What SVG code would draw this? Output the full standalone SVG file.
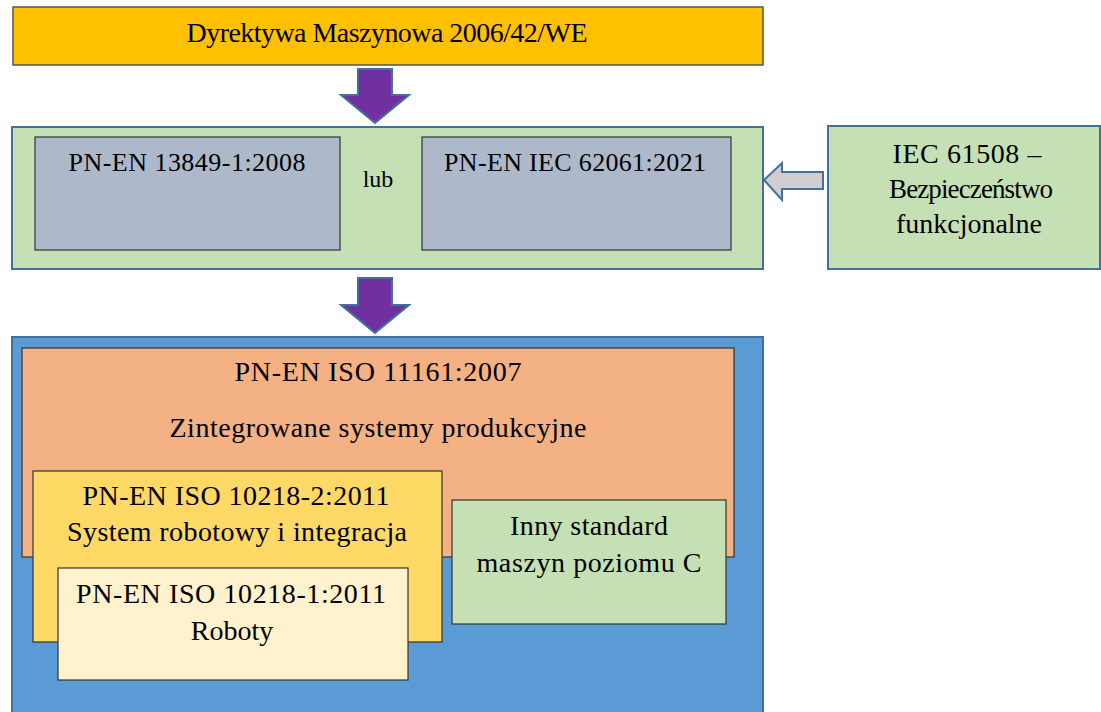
<svg xmlns="http://www.w3.org/2000/svg" width="1101" height="712" viewBox="0 0 1101 712">
<style>
.t{font-family:"Liberation Serif","Times New Roman",Tinos,"DejaVu Serif",serif;font-size:28px;fill:#000;text-anchor:middle}
.dk{stroke:#333;stroke-width:1.2}
.bl{stroke:#41719C;stroke-width:2}
.pur{fill:#7030A0;stroke:#41719C;stroke-width:2}
</style>
<rect width="1101" height="712" fill="#fff"/>
<g id="dyrektywa">
<rect x="13" y="7" width="750" height="58" fill="#FFC000" stroke="#555" stroke-width="1.5"/>
<text class="t" x="387" y="42" textLength="401" lengthAdjust="spacing">Dyrektywa Maszynowa 2006/42/WE</text>
</g>
<g id="normy-bezpieczenstwa">
<rect x="12" y="127" width="751" height="142" fill="#C5E0B4" class="bl"/>
</g>
<g id="pn-en-13849">
<rect x="35" y="137" width="305" height="113" fill="#ADB9CA" class="dk"/>
<text class="t" x="187" y="171" style="font-size:26px" textLength="237" lengthAdjust="spacing">PN-EN 13849-1:2008</text>
</g>
<g id="lub">
<text class="t" x="378" y="187" style="font-size:24px">lub</text>
</g>
<g id="pn-en-iec-62061">
<rect x="422" y="137" width="309" height="113" fill="#ADB9CA" class="dk"/>
<text class="t" x="575" y="171" style="font-size:26px" textLength="262" lengthAdjust="spacing">PN-EN IEC 62061:2021</text>
</g>
<g id="iec-61508">
<rect x="828" y="126" width="272" height="143" fill="#C5E0B4" class="bl"/>
<text class="t" x="967" y="163" textLength="149" lengthAdjust="spacing">IEC 61508 –</text>
<text class="t" x="971" y="198" style="font-size:27px" textLength="164" lengthAdjust="spacing">Bezpieczeństwo</text>
<text class="t" x="969" y="233" textLength="146" lengthAdjust="spacing">funkcjonalne</text>
</g>
<g id="maszyny-kontener">
<rect x="12" y="337" width="751" height="380" fill="#5B9BD5" class="bl"/>
</g>
<g id="iso-11161">
<rect x="22" y="348" width="712" height="209" fill="#F4B183" class="dk"/>
<text class="t" x="378" y="381" textLength="287" lengthAdjust="spacing">PN-EN ISO 11161:2007</text>
<text class="t" x="378" y="437" textLength="417" lengthAdjust="spacing">Zintegrowane systemy produkcyjne</text>
</g>
<g id="iso-10218-2">
<rect x="33" y="471" width="409" height="171" fill="#FFD966" class="dk"/>
<text class="t" x="236" y="505" textLength="307" lengthAdjust="spacing">PN-EN ISO 10218-2:2011</text>
<text class="t" x="237" y="541" textLength="340" lengthAdjust="spacing">System robotowy i integracja</text>
</g>
<g id="iso-10218-1">
<rect x="58" y="568" width="350" height="112" fill="#FFF2CC" class="dk"/>
<text class="t" x="231" y="603" textLength="310" lengthAdjust="spacing">PN-EN ISO 10218-1:2011</text>
<text class="t" x="232" y="640">Roboty</text>
</g>
<g id="inny-standard">
<rect x="452" y="500" width="274" height="124" fill="#C5E0B4" class="dk"/>
<text class="t" x="589" y="535" textLength="158" lengthAdjust="spacing">Inny standard</text>
<text class="t" x="589" y="572" textLength="225" lengthAdjust="spacing">maszyn poziomu C</text>
</g>
<g id="connectors">
<polygon class="pur" points="358,69 392,69 392,95 409,95 375,123 341,95 358,95"/>
<polygon class="pur" points="358,278 392,278 392,305 409,305 375,333 341,305 358,305"/>
<polygon points="823,172 823,189 782,189 782,200 764,180 782,163 782,172" fill="#D0CECE" stroke="#41719C" stroke-width="2"/>
</g>
</svg>
